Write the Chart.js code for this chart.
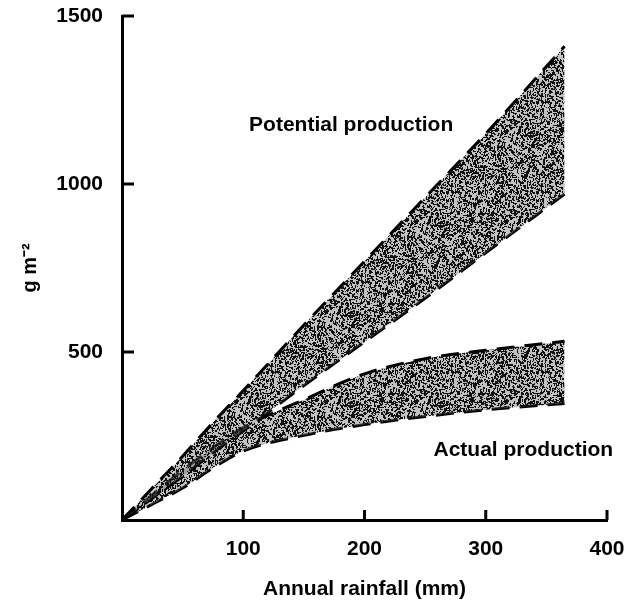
<!DOCTYPE html>
<html>
<head>
<meta charset="utf-8">
<script src="https://cdn.jsdelivr.net/npm/chart.js@4"></script>
<style>
  html, body { margin: 0; padding: 0; background: #fff; }
  #wrap { width: 626px; height: 602px; }
</style>
</head>
<body>
<div id="wrap"><canvas id="rainChart"></canvas></div>
<script>
// DATA
const rainfall = [0, 25, 50, 75, 100, 150, 200, 250, 300, 365];
const potentialUpper = [0, 95, 190, 290, 385, 580, 770, 960, 1150, 1410];
const potentialLower = [0, 65, 130, 200, 265, 400, 530, 660, 795, 970];
const actualUpper = [0, 75, 148, 215, 275, 358, 435, 480, 505, 532];
const actualLower = [0, 47, 95, 155, 205, 252, 284, 308, 328, 347];
const xTicks = [100, 200, 300, 400];
const yTicks = [500, 1000, 1500];

const FONT = "'Liberation Sans Narrow', 'Liberation Sans', Arial, sans-serif";

// stippled fill like the printed shading
function stipple() {
  const c = document.createElement('canvas');
  c.width = 90; c.height = 90;
  const g = c.getContext('2d');
  g.fillStyle = 'rgba(120,120,120,0.45)';
  g.fillRect(0, 0, 90, 90);
  let s = 12345;
  const rnd = () => { s = (s * 1103515245 + 12345) % 2147483648; return s / 2147483648; };
  g.fillStyle = '#111';
  for (let i = 0; i < 2800; i++) {
    const px = Math.floor(rnd() * 90), py = Math.floor(rnd() * 90);
    const w = rnd() < 0.3 ? 2 : 1, h = rnd() < 0.4 ? 2 : 1;
    g.fillRect(px, py, w, h);
  }
  return g.createPattern(c, 'repeat');
}
const shade = stipple();

function pts(ys) { return rainfall.map((x, i) => ({ x: x, y: ys[i] })); }

function band(label, data, fill) {
  return {
    label: label,
    data: pts(data),
    borderColor: '#000',
    borderWidth: 3,
    borderDash: [18, 10],
    backgroundColor: shade,
    fill: fill,
    pointRadius: 0,
    cubicInterpolationMode: 'monotone'
  };
}

// inward tick marks
const inwardTicks = {
  id: 'inwardTicks',
  afterDatasetsDraw(chart) {
    const { ctx, scales: { x, y } } = chart;
    ctx.save();
    ctx.strokeStyle = '#000';
    ctx.lineWidth = 3;
    ctx.beginPath();
    x.ticks.forEach(t => {
      const px = x.getPixelForValue(t.value);
      ctx.moveTo(px, y.bottom);
      ctx.lineTo(px, y.bottom - 10);
    });
    y.ticks.forEach(t => {
      const py = y.getPixelForValue(t.value);
      ctx.moveTo(x.left, py);
      ctx.lineTo(x.left + 12, py);
    });
    ctx.stroke();
    ctx.restore();
  }
};

// band labels
const bandLabels = {
  id: 'bandLabels',
  afterDraw(chart) {
    const { ctx, scales: { x, y } } = chart;
    ctx.save();
    ctx.fillStyle = '#000';
    ctx.font = 'bold 21px ' + FONT;
    ctx.textAlign = 'center';
    ctx.textBaseline = 'middle';
    ctx.fillText('Potential production', x.getPixelForValue(189), y.getPixelForValue(1176));
    ctx.fillText('Actual production', x.getPixelForValue(331), y.getPixelForValue(208));
    ctx.restore();
  }
};

new Chart(document.getElementById('rainChart'), {
  type: 'line',
  data: {
    datasets: [
      band('Potential production', potentialUpper, '+1'),
      band('Potential production (low)', potentialLower, false),
      band('Actual production', actualUpper, '+1'),
      band('Actual production (low)', actualLower, false)
    ]
  },
  options: {
    responsive: true,
    maintainAspectRatio: false,
    animation: false,
    layout: { padding: { top: 16, right: 19, left: 0, bottom: 0 } },
    plugins: { legend: { display: false }, tooltip: { enabled: false } },
    scales: {
      x: {
        type: 'linear',
        min: 0,
        max: 400,
        afterBuildTicks: s => { s.ticks = xTicks.map(v => ({ value: v })); },
        afterFit: s => { s.height = 82; s.paddingLeft = 0; s.paddingRight = 0; },
        grid: { drawOnChartArea: false, drawTicks: false },
        border: { color: '#000', width: 3 },
        ticks: { color: '#000', padding: 17, callback: v => String(v), font: { family: FONT, size: 21, weight: 'bold' } },
        title: {
          display: true,
          text: 'Annual rainfall (mm)',
          color: '#000',
          padding: { top: 0, bottom: 0 },
          font: { family: FONT, size: 21, weight: 'bold' }
        }
      },
      y: {
        min: 0,
        max: 1500,
        afterBuildTicks: s => { s.ticks = yTicks.map(v => ({ value: v })); },
        afterFit: s => { s.width = 122; s.paddingTop = 0; s.paddingBottom = 0; },
        grid: { drawOnChartArea: false, drawTicks: false },
        border: { color: '#000', width: 3 },
        ticks: { color: '#000', padding: 19, callback: v => String(v), font: { family: FONT, size: 21, weight: 'bold' } },
        title: {
          display: true,
          text: 'g m\u207B\u00B2',
          color: '#000',
          padding: { top: 18, bottom: 0 },
          font: { family: FONT, size: 20, weight: 'bold' }
        }
      }
    }
  },
  plugins: [inwardTicks, bandLabels]
});
</script>
</body>
</html>
